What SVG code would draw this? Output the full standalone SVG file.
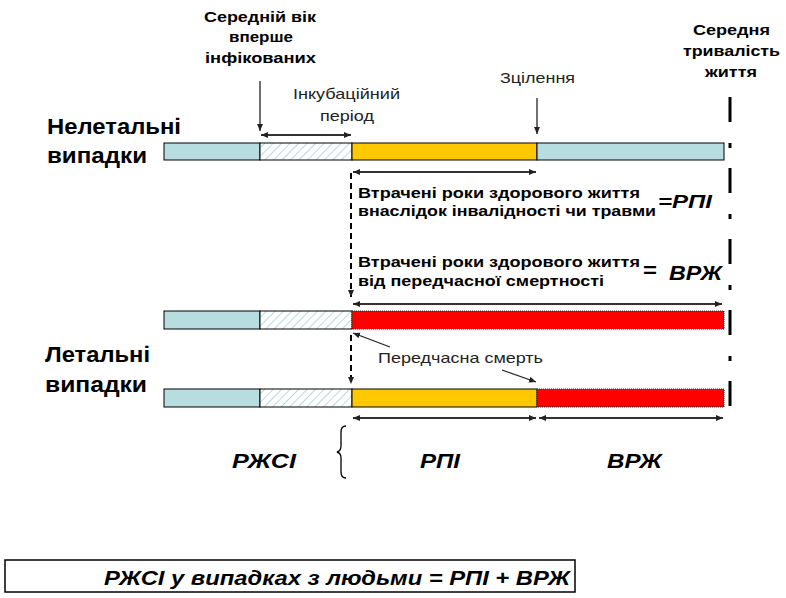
<svg xmlns="http://www.w3.org/2000/svg" width="786" height="598" viewBox="0 0 786 598">
<defs>
<pattern id="hatch" patternUnits="userSpaceOnUse" width="6" height="6" patternTransform="rotate(45)">
<rect width="6" height="6" fill="#ffffff"/>
<line x1="0" y1="0" x2="0" y2="6" stroke="#b9d9df" stroke-width="2"/>
</pattern>
<marker id="ah" markerWidth="8" markerHeight="8" refX="7" refY="4" orient="auto-start-reverse" markerUnits="userSpaceOnUse">
<path d="M0,1 L7,4 L0,7 Z" fill="#222"/>
</marker>
</defs>
<style>
.b{font-family:"Liberation Sans",Arial,sans-serif;font-weight:bold;fill:#000}
.n{font-family:"Liberation Sans",Arial,sans-serif;fill:#222}
.bi{font-family:"Liberation Sans",Arial,sans-serif;font-weight:bold;font-style:italic;fill:#000}
.seg{stroke:#000;stroke-width:1}
.blue{fill:#b7dde0}
.yel{fill:#ffc800}
.red{fill:#ff0000}
.dbl{stroke:#333;stroke-width:2;fill:none;marker-start:url(#ah);marker-end:url(#ah)}
.arr{stroke:#222;stroke-width:1.3;fill:none;marker-end:url(#ah)}
</style>
<rect width="786" height="598" fill="#fff"/>

<g id="label-nonfatal">
<text class="b" x="47" y="134" font-size="22" textLength="134" lengthAdjust="spacingAndGlyphs">Нелетальні</text>
<text class="b" x="47" y="163" font-size="22" textLength="100" lengthAdjust="spacingAndGlyphs">випадки</text>
</g>
<g id="label-fatal">
<text class="b" x="45" y="362" font-size="22" textLength="105" lengthAdjust="spacingAndGlyphs">Летальні</text>
<text class="b" x="45" y="392" font-size="22" textLength="102" lengthAdjust="spacingAndGlyphs">випадки</text>
</g>

<g id="label-age">
<text class="b" x="204" y="22" font-size="15" textLength="112" lengthAdjust="spacingAndGlyphs">Середній вік</text>
<text class="b" x="229" y="42" font-size="15" textLength="64" lengthAdjust="spacingAndGlyphs">вперше</text>
<text class="b" x="205" y="63" font-size="15" textLength="111" lengthAdjust="spacingAndGlyphs">інфікованих</text>
</g>
<g id="label-life">
<text class="b" x="693" y="35" font-size="15" textLength="77" lengthAdjust="spacingAndGlyphs">Середня</text>
<text class="b" x="683" y="56" font-size="15" textLength="97" lengthAdjust="spacingAndGlyphs">тривалість</text>
<text class="b" x="705" y="77" font-size="15" textLength="52" lengthAdjust="spacingAndGlyphs">життя</text>
</g>
<g id="label-incub">
<text class="n" x="293" y="99" font-size="15" textLength="107" lengthAdjust="spacingAndGlyphs">Інкубаційний</text>
<text class="n" x="320" y="121" font-size="15" textLength="54" lengthAdjust="spacingAndGlyphs">період</text>
</g>
<g id="label-recovery">
<text class="n" x="500" y="83" font-size="15" textLength="75" lengthAdjust="spacingAndGlyphs">Зцілення</text>
</g>

<g id="bar-nonfatal">
<rect class="seg blue" x="164" y="143" width="96" height="17"/>
<rect class="seg" x="260" y="143" width="92" height="17" fill="url(#hatch)"/>
<rect class="seg yel" x="352" y="143" width="185" height="17"/>
<rect class="seg blue" x="537" y="143" width="187" height="17"/>
</g>
<g id="bar-fatal1">
<rect class="seg blue" x="164" y="311" width="96" height="18"/>
<rect class="seg" x="260" y="311" width="92" height="18" fill="url(#hatch)"/>
<rect x="352" y="311" width="372" height="18" fill="#ff0000" stroke="#222" stroke-width="1" stroke-dasharray="1 1"/>
</g>
<g id="bar-fatal2">
<rect class="seg blue" x="164" y="389" width="96" height="18"/>
<rect class="seg" x="260" y="389" width="92" height="18" fill="url(#hatch)"/>
<rect class="seg yel" x="352" y="389" width="185" height="18"/>
<rect x="537" y="389" width="187" height="18" fill="#ff0000" stroke="#222" stroke-width="1" stroke-dasharray="1 1"/>
</g>

<g id="text-yld">
<text class="b" x="358" y="198" font-size="15" textLength="282" lengthAdjust="spacingAndGlyphs">Втрачені роки здорового життя</text>
<text class="b" x="358" y="216" font-size="15" textLength="298" lengthAdjust="spacingAndGlyphs">внаслідок інвалідності чи травми</text>
<text class="bi" x="658" y="208" font-size="18" textLength="54" lengthAdjust="spacingAndGlyphs">=РПІ</text>
</g>
<g id="text-yll">
<text class="b" x="358" y="267" font-size="15" textLength="282" lengthAdjust="spacingAndGlyphs">Втрачені роки здорового життя</text>
<text class="b" x="358" y="286" font-size="15" textLength="246" lengthAdjust="spacingAndGlyphs">від передчасної смертності</text>
<text class="b" x="643" y="277" font-size="20" textLength="14" lengthAdjust="spacingAndGlyphs">=</text>
<text class="bi" x="669" y="280" font-size="21" textLength="53" lengthAdjust="spacingAndGlyphs">ВРЖ</text>
</g>
<g id="text-premature">
<text class="n" x="378" y="363" font-size="15" textLength="165" lengthAdjust="spacingAndGlyphs">Передчасна смерть</text>
</g>

<g id="bottom-labels">
<text class="bi" x="232" y="468" font-size="20" textLength="64" lengthAdjust="spacingAndGlyphs">РЖСІ</text>
<text class="bi" x="420" y="468" font-size="20" textLength="40" lengthAdjust="spacingAndGlyphs">РПІ</text>
<text class="bi" x="607" y="468" font-size="20" textLength="55" lengthAdjust="spacingAndGlyphs">ВРЖ</text>
<path d="M346,426 Q341,426 341,432 L341,446 Q341,451 337,452 Q341,453 341,458 L341,472 Q341,478 346,478" fill="none" stroke="#000" stroke-width="1.3"/>
</g>

<g id="formula">
<rect x="5" y="560" width="570" height="32" fill="#fff" stroke="#000" stroke-width="1.5"/>
<text class="bi" x="104" y="585" font-size="20" textLength="466" lengthAdjust="spacingAndGlyphs">РЖСІ у випадках з людьми = РПІ + ВРЖ</text>
</g>

<g id="connectors">
<line class="arr" x1="260" y1="81" x2="260" y2="131"/>
<line class="arr" x1="537" y1="98" x2="537" y2="134"/>
<line class="dbl" x1="261" y1="135" x2="351" y2="135"/>
<line class="dbl" x1="353" y1="172" x2="536" y2="172"/>
<line class="dbl" x1="353" y1="304" x2="722" y2="304"/>
<line class="dbl" x1="353" y1="418" x2="536" y2="418"/>
<line class="dbl" x1="539" y1="418" x2="723" y2="418"/>
<line x1="351" y1="173" x2="351" y2="297" stroke="#000" stroke-width="2" stroke-dasharray="6 4" marker-end="url(#ah)"/>
<line x1="351" y1="335" x2="351" y2="384" stroke="#000" stroke-width="2" stroke-dasharray="6 4" marker-end="url(#ah)"/>
<line class="arr" x1="390" y1="347" x2="353" y2="333"/>
<line class="arr" x1="502" y1="370" x2="536" y2="382"/>
<line x1="730" y1="97" x2="730" y2="408" stroke="#000" stroke-width="3" stroke-dasharray="25 21 5 20"/>
</g>
</svg>
